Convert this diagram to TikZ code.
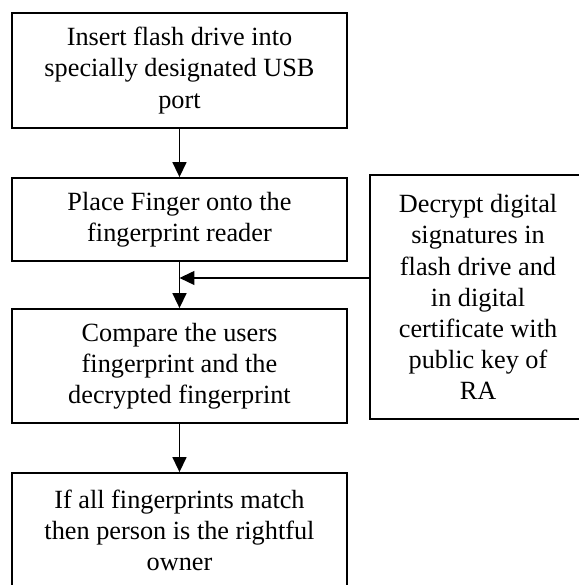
\documentclass[tikz,border=0pt]{standalone}
\usepackage{fontspec}
\setmainfont{Liberation Serif}
\usetikzlibrary{arrows.meta}

\begin{document}
\begin{tikzpicture}[
  stepbox/.style={draw, line width=.8pt, inner sep=0pt, align=center, minimum width=5.377cm, font=\fontsize{12}{14.2}\selectfont},
  flow/.style={line width=.8pt, -{Triangle[width=6.3pt,length=6.8pt]}}]
\useasboundingbox (0,0) rectangle (9.278,-9.39);
\node[stepbox, minimum height=1.846cm] (insert) at (2.881,-1.132) {Insert flash drive into\\specially designated USB\\port};
\node[stepbox, minimum height=1.332cm] (place) at (2.881,-3.523) {Place Finger onto the\\fingerprint reader};
\node[stepbox, minimum height=1.830cm] (compare) at (2.881,-5.875) {Compare the users\\fingerprint and the\\decrypted fingerprint};
\node[stepbox, minimum height=1.846cm] (owner) at (2.881,-8.515) {If all fingerprints match\\then person is the rightful\\owner};
\node[stepbox, draw=none, minimum width=3.435cm, minimum height=3.884cm] (decrypt) at (7.673,-4.767) {Decrypt digital\\signatures in\\flash drive and\\in digital\\certificate with\\public key of\\RA};
\draw[line width=.8pt] (decrypt.north east) -- (decrypt.north west) -- (decrypt.south west) -- (decrypt.south east);
\coordinate (join) at (2.881,-4.462);
\draw[flow] (insert) -- (place);
\draw[flow] (place) -- (compare);
\draw[flow] (decrypt.west |- join) -- (join);
\draw[flow] (compare) -- (owner);
\end{tikzpicture}
\end{document}
